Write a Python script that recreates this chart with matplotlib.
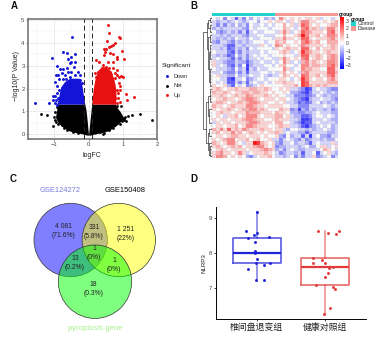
import matplotlib
matplotlib.use('Agg')
import matplotlib.pyplot as plt
import numpy as np
from matplotlib.colors import LinearSegmentedColormap
from matplotlib.patches import Circle, Rectangle

plt.rcParams['font.family'] = ['Liberation Sans', 'Noto Sans CJK SC', 'DejaVu Sans']

W, H = 379, 338

# A: volcano, dense part given as outline per -log10P level
black_lev = [-0.03, 0.03, 0.08, 0.15, 0.25, 0.35, 0.5, 0.65, 0.8, 1.0, 1.15, 1.32]
black_out_l = [-0.05, -0.2, -0.38, -0.56, -0.68, -0.78, -0.88, -0.94, -0.96, -0.94, -0.92, -0.93]
black_in_l = [0, -0.004, -0.008, -0.012, -0.02, -0.025, -0.035, -0.045, -0.055, -0.07, -0.085, -0.11]
black_in_r = [0, 0.004, 0.008, 0.012, 0.02, 0.025, 0.035, 0.045, 0.055, 0.07, 0.08, 0.09]
black_out_r = [0.05, 0.22, 0.38, 0.56, 0.68, 0.78, 0.9, 0.98, 1.0, 0.92, 0.84, 0.79]
blue_lev = [1.32, 1.6, 1.9, 2.1, 2.3, 2.45]
blue_out = [-0.93, -0.88, -0.84, -0.8, -0.7, -0.55]
blue_in = [-0.11, -0.14, -0.17, -0.19, -0.22, -0.28]
red_lev = [1.32, 1.6, 1.9, 2.2, 2.5, 2.8, 2.95]
red_in = [0.09, 0.11, 0.13, 0.16, 0.2, 0.28, 0.38]
red_out = [0.79, 0.8, 0.8, 0.77, 0.72, 0.62, 0.5]

down_fc = [-1.58, -1.17, -1.08, -0.47, -0.74, -0.64, -0.40, -0.52, -0.59, -0.93, -0.83, -0.76, -0.64, -0.54, -0.50,
           -0.40, -0.43, -0.30, -0.25, -0.98, -0.95, -0.88, -0.79, -0.69, -0.59, -0.50, -0.40, -0.85, -0.74, -0.66,
           -0.54, -0.35, -0.25, -0.20, -0.91, -1.03, -0.98, -0.91, -0.85, -0.79, -1.03, -0.95, -0.88, -0.98, -0.93]
down_p = [1.35, 1.35, 3.32, 4.25, 3.57, 3.54, 3.49, 3.36, 3.28, 2.98, 2.84, 2.84, 2.88, 3.10, 3.17,
          3.17, 2.95, 2.74, 2.59, 2.30, 2.59, 2.59, 2.66, 2.59, 2.74, 2.74, 2.59, 2.40, 2.40, 2.40,
          2.49, 2.37, 2.37, 2.23, 2.11, 1.67, 1.67, 1.79, 1.94, 2.01, 1.50, 1.50, 1.57, 1.35, 1.30]
up_fc = [0.58, 0.60, 0.89, 0.91, 0.55, 0.77, 0.72, 0.67, 0.60, 0.45, 0.52, 0.48, 0.45, 0.62, 0.70, 0.99, 0.83, 1.04,
         0.23, 0.31, 0.82, 0.72, 0.57, 0.43, 0.50, 0.60, 0.38, 0.72, 0.83, 0.77, 0.82, 0.96, 1.01, 0.18, 0.28, 0.67,
         0.77, 0.89, 0.62, 0.89, 0.91, 0.93, 0.86, 1.09, 1.32, 1.12, 0.82, 0.72, 0.77, 0.86, 0.91, 0.82, 0.72, 0.21,
         0.33, 0.43, 0.54]
up_p = [4.77, 4.43, 4.24, 4.22, 4.09, 3.97, 3.90, 3.86, 3.83, 3.71, 3.71, 3.61, 3.46, 3.54, 3.49, 3.64, 3.39, 3.28,
        3.25, 3.17, 3.28, 3.17, 3.17, 3.03, 2.95, 2.88, 2.88, 2.88, 2.81, 2.69, 2.59, 2.55, 2.52, 2.66, 2.74, 2.63,
        2.45, 2.49, 2.74, 2.23, 2.11, 1.94, 1.79, 1.76, 1.62, 1.50, 1.94, 1.72, 1.57, 1.57, 1.43, 1.35, 1.50, 2.49,
        2.55, 2.66, 2.59]
net_fc = [-1.38, -1.21, -1.05, -0.95, -0.91, -0.83, -0.97, -0.91, -0.88, 1.16, 1.28, 1.49, 1.84, 1.07, 1.01, 0.93,
          0.82, 0.77, 0.96, 1.03, 0.91, 0.72, 0.82, 0.33, -0.79, -0.74, 0.77, 0.86, -1.0, -0.98, -0.72, -0.62, -0.45,
          -0.3, 0.45, 0.6, 0.7, 1.0, 1.05, 1.1, 0.98, 0.42]
net_p = [0.87, 0.84, 0.36, 0.54, 0.74, 0.84, 0.98, 1.21, 0.45, 0.79, 0.86, 0.90, 0.64, 0.74, 0.70, 0.70,
         1.24, 1.21, 1.25, 0.63, 0.45, 0.41, 0.51, 0.12, 0.41, 0.48, 0.84, 0.77, 0.75, 0.62, 0.28, 0.2, 0.1,
         0.05, 0.07, 0.18, 0.28, 0.66, 0.66, 0.6, 0.58, 0.03]
volcano_xticks = [-1, 0, 1, 2]
volcano_yticks = [0, 1, 2, 3, 4, 5]
sig_names = ['Down', 'Net', 'Up']
sig_colors = ['#1414d8', '#000000', '#e81010']
fc_cuts = [-0.12, 0.09]

# B: heatmap, expression in coarse steps, 17 control + 17 disease
heat_rows = [
    [0,-1,0,-3,0,-1,-4,-1,-3,0,-2,0,-1,0,-2,-1,-2,  0,3,1,0,1,0,1,0,1,1,0,1,-1,0,0,-1,0],
    [-1,-2,-1,-1,-2,-1,0,-1,-2,-1,0,0,-2,0,0,1,0,  1,1,0,-1,1,0,1,3,3,1,1,0,0,1,0,1,2],
    [-1,-3,-1,-3,-1,-2,0,-2,-1,-3,0,-1,-1,0,-1,0,-1,  0,0,2,0,1,-1,1,4,3,1,0,1,0,0,1,2,2],
    [-2,-1,-2,-1,-1,-1,-1,-1,-2,-3,0,-1,0,0,0,-1,0,  0,0,2,1,0,-1,0,3,4,1,2,1,-1,1,3,3,1],
    [0,-2,-3,-2,-1,-2,-1,-3,-1,-4,-1,0,-1,-1,0,0,0,  -1,1,3,1,-1,0,1,4,3,2,1,1,1,0,3,4,1],
    [-1,-1,-2,-1,-2,-1,-1,-1,-2,-3,-1,-1,0,0,-1,-1,-1,  0,0,2,0,0,1,2,6,3,1,1,2,0,1,3,3,2],
    [-1,-2,-1,-2,-1,-2,0,-1,-1,-2,0,-1,-1,0,0,0,-1,  1,1,3,1,1,0,1,4,4,1,0,1,1,1,2,3,1],
    [-2,-3,-1,-1,-2,-3,-1,-2,-1,-2,-1,0,0,0,-1,0,0,  2,1,2,0,0,1,0,3,4,2,1,2,0,0,2,2,2],
    [-1,-1,-1,-2,-4,-4,-1,-1,-2,-1,-1,-1,-1,1,0,-1,0,  3,2,0,1,0,0,1,3,2,1,1,1,1,0,1,2,1],
    [-1,-1,-2,-1,-4,-3,-1,-2,-1,-3,0,-1,0,0,0,0,-1,  1,0,1,2,1,1,0,4,4,1,0,2,0,1,1,2,1],
    [0,-1,-1,-1,-3,-4,-1,-3,-1,-2,-1,-1,-1,0,-1,0,0,  0,1,2,1,-1,0,1,5,3,2,1,1,0,1,2,1,1],
    [-1,-2,-1,-2,-4,-3,0,-2,-1,-3,-1,0,-1,0,0,-1,0,  0,0,1,0,0,-1,1,4,4,1,1,2,1,0,2,3,2],
    [-1,0,-1,-1,-2,-4,-1,-3,-1,-3,-1,-1,0,-1,0,0,-1,  -1,1,3,1,0,1,0,3,4,0,1,2,1,0,2,3,2],
    [1,-1,-1,-2,-3,-3,-1,-2,-2,-4,-2,-1,-1,0,-1,-1,0,  -1,0,3,1,-1,0,-1,2,3,1,2,1,0,1,3,3,2],
    [1,-1,0,-1,-3,-4,-1,-3,0,-5,-2,-1,-1,-1,0,0,-1,  0,1,2,0,0,-1,0,3,3,1,2,2,1,1,3,4,2],
    [0,-1,-1,-1,-2,-3,0,-2,-1,-5,-1,-2,0,-1,-1,0,0,  0,0,3,1,-1,0,0,3,2,2,1,1,0,0,4,4,1],
    [-1,-1,0,-2,-3,-3,-1,-3,-1,-4,-1,-1,-1,0,0,-1,0,  -1,1,2,0,1,0,-1,2,3,1,1,1,1,1,4,4,2],
    [0,1,-1,-1,-2,-2,0,-2,-1,-2,0,-1,-1,0,-1,-2,-1,  -1,0,2,1,0,1,0,4,3,1,1,2,0,1,3,4,1],
    [0,0,-1,-1,-4,-5,-1,-1,0,-3,-2,-1,0,0,-1,0,0,  0,1,1,0,-1,0,1,5,3,1,0,1,1,0,2,3,1],
    [0,-1,0,-1,-4,-4,-1,-3,-1,-4,-1,0,-1,-1,0,-1,0,  1,1,2,1,1,0,0,5,4,1,1,1,1,1,2,2,2],
    [1,0,0,1,-2,-4,0,-1,0,-3,-2,-1,0,1,0,0,0,  0,0,1,1,1,2,0,5,4,2,1,2,1,2,1,1,1],
    [1,2,1,0,1,1,2,1,1,1,2,2,1,1,2,1,0,  0,1,0,1,-1,-1,-2,-3,-5,-4,-1,0,-1,-1,-2,-3,-3],
    [2,1,1,2,1,0,1,1,2,2,1,2,2,1,1,0,1,  0,0,1,0,-2,-2,-3,-4,-5,-3,-1,-1,0,-1,-2,-1,-2],
    [1,1,2,1,0,1,2,1,1,3,2,1,1,1,2,1,0,  1,0,0,-1,-1,-3,-3,-3,-4,-3,-2,0,-1,-2,-1,-2,-2],
    [0,1,1,2,1,1,0,1,2,3,3,2,1,0,1,1,1,  0,1,1,0,-1,-2,-3,-4,-5,-2,-1,-1,0,-1,-1,-2,-3],
    [1,2,2,1,0,1,1,2,1,2,3,3,2,1,1,0,0,  1,0,1,-1,-1,-2,-4,-3,-4,-3,-1,0,-2,-1,-2,-1,-2],
    [2,1,1,0,1,2,1,1,1,3,3,2,1,1,0,1,1,  1,1,0,0,-1,-1,-3,-3,-3,-1,-1,-1,-1,0,-1,-2,-1],
    [1,0,1,1,2,1,0,1,2,2,3,3,1,2,1,0,0,  0,2,1,1,-3,-2,-5,-2,-3,-1,-2,-1,-1,-2,-1,-3,-2],
    [0,1,2,1,1,0,1,1,1,3,2,2,2,1,1,1,0,  2,1,1,0,-2,-2,-3,-3,-2,-2,-1,0,-1,-1,-1,-2,-2],
    [0,1,0,-1,1,1,2,0,1,3,3,3,1,0,1,1,1,  2,2,0,1,-1,-2,-2,-4,-4,-3,-1,0,0,-1,0,-1,-2],
    [1,0,1,1,0,1,1,1,2,3,3,2,1,1,0,0,1,  2,1,1,1,-1,-1,-2,-5,-5,-4,-1,-1,-1,0,-1,-2,-2],
    [-1,1,0,1,1,0,1,1,1,2,3,3,2,1,1,1,0,  2,2,0,0,-1,-2,-3,-5,-4,-4,-1,0,-1,-1,-1,-1,-2],
    [0,1,1,0,1,1,2,0,1,3,3,2,1,1,1,0,0,  1,2,1,1,-1,-1,-2,-4,-5,-3,-2,-1,0,-1,0,-2,-1],
    [2,1,3,1,4,1,2,1,3,2,1,1,1,2,1,1,0,  1,1,-1,-2,0,0,-1,-1,-2,-1,-2,-1,-1,0,-1,-2,-1],
    [1,2,0,1,1,3,1,2,0,1,2,1,0,1,0,1,1,  2,1,-1,0,-1,-1,-2,-2,-4,-2,-1,-1,-1,-1,-2,-2,-1],
    [0,1,1,0,1,2,2,1,1,0,1,1,1,0,1,0,0,  1,-2,-3,0,-2,-1,-1,-4,-1,-5,-1,0,-2,-2,-3,-1,-1],
    [1,0,1,2,3,3,0,1,1,2,0,1,2,0,0,1,-1,  -1,-3,-1,0,-1,-2,-3,-1,-3,-2,-1,-1,-2,-1,-2,-2,0],
    [2,1,0,1,3,3,1,0,-1,1,1,6,5,2,1,0,1,  -2,-3,-1,-1,0,-2,-1,-1,-2,-4,-1,0,-1,-1,-1,1,-1],
    [1,2,1,0,1,2,1,2,0,1,1,2,3,3,1,0,1,  -3,-2,-2,-1,-1,-1,-2,-1,0,-2,-2,0,1,1,-1,0,1],
    [0,1,2,1,0,1,1,1,1,0,1,1,1,2,3,2,1,  -2,-1,-3,-1,0,-1,-2,-2,-1,-1,-1,-1,0,2,1,0,-1],
    [1,2,3,1,1,0,1,3,1,-1,0,1,1,1,2,1,0,  -1,-3,-2,-1,-1,-2,-1,-4,-1,-1,0,-4,-1,0,1,-1,-2],
    [1,3,3,2,0,1,0,1,0,-2,-3,-1,0,1,1,2,0,  -1,-1,-2,-1,0,-3,-1,-3,-1,-1,1,-3,-2,-1,0,-3,-1],
]
heat_step = 0.55
n_control = 17
group_names = ['Control', 'Disease']
group_colors = ['#22d3cf', '#f59a92']
scale_ticks = [-3, -2, -1, 0, 1, 2, 3]
# row a, row b, height of the join, height of child a, height of child b
dendro = [
    (4, 33, 1.0, 0.6, 0.62), (1.5, 9, 0.6, 0.42, 0.45), (0.5, 3, 0.42, 0.2, 0.25), (0, 1, 0.2, 0, 0), (2, 4, 0.25, 0, 0.1),
    (5.5, 15, 0.45, 0.25, 0.3), (5, 7, 0.25, 0, 0.12), (10, 19, 0.3, 0.2, 0.22), (8, 12, 0.2, 0.1, 0.1), (15, 20, 0.22, 0.12, 0.1),
    (25, 37, 0.62, 0.5, 0.5), (23, 29, 0.5, 0.25, 0.3), (21, 25, 0.25, 0.12, 0.1), (27, 31, 0.3, 0.15, 0.12),
    (34, 39, 0.5, 0.3, 0.35), (33, 35, 0.3, 0, 0.1), (37, 40.5, 0.35, 0.15, 0.2), (38, 41, 0.2, 0, 0),
]

# C: venn
venn_names = ['GSE124272', 'GSE150408', 'pyroplosis gene']
venn_colors = ['#0000ff', '#ffff00', '#00ff00']
venn_counts = ['4 081\n(71.6%)', '331\n(5.8%)', '1 251\n(22%)', '1\n(0%)', '13\n(0.2%)', '1\n(0%)', '18\n(0.3%)']

# D: box plot with the single samples
box_labels = ['椎间盘退变组', '健康对照组']
box_colors = ['#2222d8', '#e23a3a']
box_q1 = [7.72, 7.07]
box_med = [8.0, 7.6]
box_q3 = [8.45, 7.85]
box_lo = [7.2, 6.2]
box_hi = [9.2, 8.65]
a_x = [1.01, 0.84, 1.0, 0.96, 0.88, 1.18, 0.97, 0.97, 0.97, 1.0, 0.99, 1.2, 1.1, 0.87, 0.99, 1.11]
a_y = [9.18, 8.63, 8.57, 8.52, 8.43, 8.46, 8.33, 8.07, 7.99, 7.82, 7.72, 7.72, 7.65, 7.54, 7.22, 7.22]
b_x = [1.90, 2.05, 2.16, 2.2, 1.82, 1.96, 1.83, 2.0, 2.11, 2.06, 2.05, 2.0, 1.87, 2.11, 2.15, 2.07, 1.98]
b_y = [8.63, 8.59, 8.55, 8.63, 7.85, 7.79, 7.71, 7.72, 7.6, 7.56, 7.42, 7.32, 7.07, 7.01, 6.96, 6.42, 6.24]


def px_axes(x0, y0, x1, y1):
    # axes from pixel box, y counted from the top of the picture
    return fig.add_axes([x0 / W, 1 - y1 / H, (x1 - x0) / W, (y1 - y0) / H])


fig = plt.figure(figsize=(W / 100, H / 100), dpi=100)

# overlay in pixel coordinates for the loose texts and the venn
bg = fig.add_axes([0, 0, 1, 1])
bg.set_xlim(0, W)
bg.set_ylim(H, 0)
bg.axis('off')

# ---- A ----
ax = px_axes(28, 19, 157, 139)
ax.fill_betweenx(black_lev, black_out_l, black_in_l, color='black', lw=0)
ax.fill_betweenx(black_lev, black_in_r, black_out_r, color='black', lw=0)
ax.fill_betweenx(blue_lev, blue_out, blue_in, color=sig_colors[0], lw=0, zorder=2)
ax.fill_betweenx(red_lev, red_in, red_out, color=sig_colors[2], lw=0, zorder=2)
ax.scatter(net_fc, net_p, s=4, color=sig_colors[1], lw=0, zorder=3)
ax.scatter(down_fc, down_p, s=4.5, color=sig_colors[0], lw=0, zorder=3)
ax.scatter(up_fc, up_p, s=4.5, color=sig_colors[2], lw=0, zorder=3)
for c in fc_cuts:
    ax.axvline(c, color='#222222', lw=0.7, ls=(0, (5, 3)), zorder=4)
ax.set_xlim(-1.77, 2.0)
ax.set_ylim(-0.2, 5.03)
ax.set_xticks(volcano_xticks)
ax.set_yticks(volcano_yticks)
ax.set_xticklabels(['−1', '0', '1', '2'])
ax.set_xticks([-1.5, -0.5, 0.5, 1.5], minor=True)
ax.set_yticks([0.5, 1.5, 2.5, 3.5, 4.5], minor=True)
ax.grid(True, which='major', color='#e8e8e8', lw=0.6)
ax.grid(True, which='minor', color='#f2f2f2', lw=0.35)
ax.set_axisbelow(True)
ax.tick_params(which='major', labelsize=4.2, length=1.5, width=0.4, pad=1, labelcolor='#444444', color='#444444')
ax.tick_params(which='minor', length=0)
for s in ax.spines.values():
    s.set_color('#777777')
    s.set_linewidth(1.2)
bg.text(92, 155.5, 'logFC', fontsize=5, ha='center', va='center', color='#222222')
bg.text(16.5, 76, '−log10(P Value)', fontsize=5, rotation=90, ha='center', va='center', color='#222222')
bg.text(162, 65.5, 'Significant', fontsize=4.6, ha='left', va='center', color='#222222')
for name, col, y in zip(sig_names, sig_colors, [76, 85.5, 95]):
    bg.scatter([166.7], [y], s=4.5, color=col, lw=0)
    bg.text(174, y, name, fontsize=4, ha='left', va='center', color='#222222')

# ---- B ----
heat = np.array(heat_rows) * heat_step
n_rows, n_cols = heat.shape
blue_red = LinearSegmentedColormap.from_list('bwr2', ['#0000ff', '#ffffff', '#ff0000'])
ax = px_axes(212.3, 16.7, 338.3, 158)
ax.pcolormesh(heat, cmap=blue_red, vmin=-3.5, vmax=3.5, linewidth=0)
ax.hlines(range(n_rows + 1), 0, n_cols, color='#b8b8b8', lw=0.25, alpha=0.6)
ax.vlines(range(n_cols + 1), 0, n_rows, color='#b8b8b8', lw=0.25, alpha=0.6)
ax.set_ylim(n_rows, 0)
ax.axis('off')

ax = px_axes(212.3, 13, 338.3, 16)
ax.barh([0] * n_control, [1] * n_control, left=range(n_control), height=1, color=group_colors[0], lw=0)
ax.barh([0] * (n_cols - n_control), [1] * (n_cols - n_control), left=range(n_control, n_cols), height=1,
        color=group_colors[1], lw=0)
ax.set_xlim(0, n_cols)
ax.set_ylim(-0.5, 0.5)
ax.axis('off')

# dendrogram on the left, leaves at the rows of the heatmap
ax = px_axes(203, 16.7, 212, 158)
for a, b, h, ha_, hb_ in dendro:
    ax.plot([ha_, h, h, hb_], [a + 0.5, a + 0.5, b + 0.5, b + 0.5], color='#222222', lw=0.45)
for r in range(n_rows):
    ax.plot([0.12, 0], [r + 0.5, r + 0.5], color='#222222', lw=0.3)
ax.set_xlim(1.0, 0)
ax.set_ylim(n_rows, 0)
ax.axis('off')

# colour scale
ax = px_axes(340, 17.3, 344, 69)
ax.imshow(np.linspace(3.5, -3.5, 200).reshape(-1, 1), cmap=blue_red, vmin=-3.5, vmax=3.5, aspect='auto',
          extent=[0, 1, -3.5, 3.5])
ax.yaxis.tick_right()
ax.set_yticks(scale_ticks)
ax.set_yticklabels(['−3', '−2', '−1', '0', '1', '2', '3'])
ax.set_xticks([])
ax.tick_params(labelsize=3.6, length=0, pad=1.5, labelcolor='#333333')
for s in ax.spines.values():
    s.set_visible(False)
bg.text(339, 14.7, 'group', fontsize=3.6, fontweight='bold', ha='left', va='center')
bg.text(351, 19, 'group', fontsize=3.6, fontweight='bold', ha='left', va='center')
for i, (name, col) in enumerate(zip(group_names, group_colors)):
    bg.add_patch(Rectangle((351.3, 21 + i * 5.2), 4.8, 5, color=col, lw=0))
    bg.text(358, 23.5 + i * 5.2, name, fontsize=3.6, ha='left', va='center', color='#222222')

# ---- C ----
for (cx, cy), col in zip([(70.7, 240), (118.8, 240), (95, 281.7)], venn_colors):
    bg.add_patch(Circle((cx, cy), 36.7, facecolor=col, alpha=0.5, lw=0))
    bg.add_patch(Circle((cx, cy), 36.7, facecolor='none', edgecolor='#333333', lw=0.5))
for txt, (x, y) in zip(venn_counts, [(63.5, 231), (94, 232), (126, 234), (94, 253), (75, 263), (114, 265), (93.5, 289)]):
    bg.text(x, y, txt, fontsize=4.9, ha='center', va='center', color='#222222', linespacing=1.25)
bg.text(60, 190.5, venn_names[0], fontsize=5.4, ha='center', va='center', color='#7a7ae0')
bg.text(125.5, 190.5, venn_names[1], fontsize=5.4, ha='center', va='center', color='black')
bg.text(95, 328.5, venn_names[2], fontsize=5.6, ha='center', va='center', color='#a8f08c')

# ---- D ----
ax = px_axes(215.7, 206.7, 366, 319.3)
for i in range(2):
    col = box_colors[i]
    st = {'q1': box_q1[i], 'med': box_med[i], 'q3': box_q3[i], 'whislo': box_lo[i], 'whishi': box_hi[i],
          'fliers': [], 'label': box_labels[i]}
    ax.bxp([st], positions=[i + 1], widths=0.7, showcaps=False, showfliers=False,
           boxprops=dict(color=col, lw=1.2, alpha=0.75),
           whiskerprops=dict(color=col, lw=1.1, alpha=0.6),
           medianprops=dict(color=col, lw=1.6))
ax.scatter(a_x, a_y, s=4.5, color=box_colors[0], lw=0, zorder=4)
ax.scatter(b_x, b_y, s=4.5, color=box_colors[1], lw=0, zorder=4)
ax.set_xlim(0.4, 2.6)
ax.set_ylim(6.09, 9.34)
ax.set_xticks([1, 2])
ax.set_xticklabels(box_labels, fontsize=6.4, color='#222222')
ax.set_yticks([7, 8, 9])
ax.tick_params(axis='y', labelsize=4.2, length=1.5, width=0.5, pad=1, labelcolor='#444444')
ax.tick_params(axis='x', length=1.5, width=0.5, pad=1.5)
ax.set_ylabel('NLRP3', fontsize=4.4, labelpad=2, color='#222222')
ax.spines['top'].set_visible(False)
ax.spines['right'].set_visible(False)
ax.spines['left'].set_linewidth(0.7)
ax.spines['bottom'].set_linewidth(0.7)

# panel letters
for letter, x, y in [('A', 14, 6), ('B', 193.5, 6), ('C', 13.5, 179), ('D', 194, 179)]:
    bg.text(x, y, letter, fontsize=7, fontweight='bold', ha='center', va='center', color='#111111')

fig.savefig('out.png', dpi=100)
